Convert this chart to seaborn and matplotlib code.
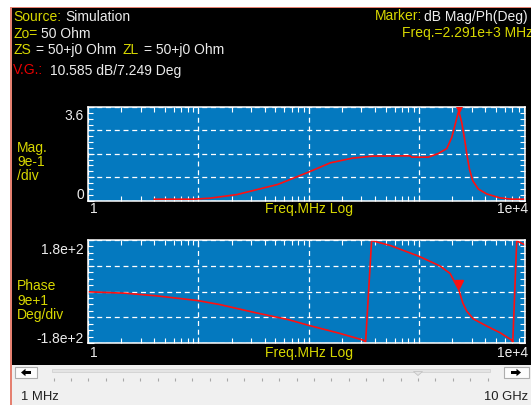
import matplotlib
matplotlib.use("Agg")
import numpy as np
import matplotlib.pyplot as plt
import seaborn as sns
from matplotlib.patches import Rectangle, Polygon
from matplotlib.ticker import LogLocator, MultipleLocator, NullFormatter
from matplotlib.transforms import offset_copy

# voltage gain magnitude (linear) vs frequency in MHz
mag_freq = [3.97, 8.97, 12.8, 22.5, 52.6, 99.4, 157, 249, 381, 828, 859, 1217,
            1500, 1787, 1983, 2291, 2443, 2618, 2713, 2866, 3073, 3456, 4121,
            5432, 7000, 9140]
mag_vals = [0.05, 0.05, 0.09, 0.23, 0.62, 1.09, 1.45, 1.63, 1.71, 1.72, 1.67, 1.67,
            1.81, 2.00, 2.43, 3.45, 3.00, 2.24, 1.79, 1.21, 0.76, 0.44, 0.25,
            0.10, 0.05, 0.05]

# phase in degrees (wrapped to +-180)
ph_freq = [1, 2.18, 4.12, 7.78, 9.97, 15.8, 32, 65, 99.4, 190, 313, 328, 372,
           547, 1000, 1554, 1914, 2291, 2495, 2712, 3114, 4121, 5432, 6934,
           7080, 7690, 9140]
ph_vals = [-1, -6, -15, -27, -32, -46, -73, -98, -118, -146, -170, -178, 178,
           161, 123, 89, 63, 7.2, -40, -69, -96, -121, -144, -170,
           -178, 177, 163]

marker_freq = 2291
marker_db = 10.585
marker_deg = 7.249
x_min, x_max = 1, 9140

BLUE = "#0479bf"
RED = "#ff1010"
YEL = "#d8d800"
WHT = "#ececec"
W, H = 531, 406

sns.set_style("ticks")
plt.rcParams["font.family"] = ["Liberation Sans", "DejaVu Sans"]
FS = 10

fig = plt.figure(figsize=(W / 100, H / 100), dpi=100, facecolor="white")

# background / window chrome, drawn in pixel coordinates
bg = fig.add_axes([0, 0, 1, 1])
bg.set_zorder(-1)
bg.set_xlim(0, W)
bg.set_ylim(H, 0)
bg.axis("off")
bg.add_patch(Rectangle((10, 7.5), W - 10, H, color="#e58070", lw=0))
bg.add_patch(Rectangle((11.5, 9), W, 357, color="black", lw=0))
bg.add_patch(Rectangle((11.5, 366), W, 41, color="#f0f0f0", lw=0))

# scrollbar
bg.add_patch(Rectangle((15, 368), 22, 11, facecolor="#fcfcfc", edgecolor="#adadad", lw=0.8))
bg.add_patch(Rectangle((503.5, 368), 25, 11, facecolor="#fcfcfc", edgecolor="#adadad", lw=0.8))
bg.add_patch(Polygon([(21, 373.5), (25.5, 369.8), (25.5, 377.2)], color="black", lw=0))
bg.add_patch(Rectangle((25, 372.4), 6, 2.3, color="black", lw=0))
bg.add_patch(Polygon([(521, 373.5), (516.5, 369.8), (516.5, 377.2)], color="black", lw=0))
bg.add_patch(Rectangle((511, 372.4), 6, 2.3, color="black", lw=0))
bg.add_patch(Rectangle((52, 369.5), 438, 3.5, facecolor="#e4e4e4", edgecolor="#d2d2d2", lw=0.6))
bg.add_patch(Polygon([(413.5, 372.5), (422.5, 372.5), (418, 376.5)],
                     facecolor="#e4e4e4", edgecolor="#c4c4c4", lw=0.6))
bg.vlines(np.linspace(53.5, 487.5, 26), 378.5, 381.5, color="#a8a8a8", lw=0.8)
bg.text(21, 400, "1 MHz", color="#202020", fontsize=9.4)
bg.text(528, 400, "10 GHz", color="#202020", fontsize=9.4, ha="right")

# header text
def seg(x, y, s, c):
    bg.text(x, y, s, color=c, fontsize=FS, va="baseline")

seg(13, 21, "Source:", YEL)
seg(65.5, 21, "Simulation", WHT)
seg(13, 37.5, "Zo=", YEL)
seg(41, 37.5, "50 Ohm", WHT)
seg(13, 54, "ZS", YEL)
seg(35.5, 54, "= 50+j0 Ohm", WHT)
seg(122.7, 54, "ZL", YEL)
seg(144.3, 54, "= 50+j0 Ohm", WHT)
seg(13, 74.5, "V.G.:", "#e80000")
seg(49.5, 74.5, "10.585 dB/7.249 Deg", WHT)
seg(375, 20.5, "Marker:", YEL)
seg(424, 20.5, "dB Mag/Ph(Deg)", WHT)
seg(402, 37, "Freq.=2.291e+3 MHz", YEL)

# axis annotations
for yb, s in [(152.5, "Mag."), (166.5, "9e-1"), (180.5, "/div"),
              (290.5, "Phase"), (305, "9e+1"), (319, "Deg/div")]:
    seg(17, yb, s, YEL)
for yb, s in [(120, "3.6"), (199.3, "0"), (254, "1.8e+2"), (343.3, "-1.8e+2")]:
    bg.text(84, yb, s, color=WHT, fontsize=FS, ha="right", va="baseline")
for yb in [213, 357.5]:
    bg.text(90, yb, "1", color=WHT, fontsize=FS, va="baseline")
    bg.text(309, yb, "Freq.MHz Log", color=YEL, fontsize=FS, ha="center", va="baseline")
    bg.text(528, yb, "1e+4", color=WHT, fontsize=FS, ha="right", va="baseline")


def style_axes(ax, ylo, yhi, major, minor):
    ax.set_facecolor(BLUE)
    ax.set_xscale("log")
    ax.set_xlim(x_min, x_max)
    ax.set_ylim(ylo, yhi)
    for s in ax.spines.values():
        s.set_color("white")
        s.set_linewidth(1.1)
    ax.xaxis.set_major_locator(LogLocator(base=10, numticks=10))
    ax.xaxis.set_minor_locator(LogLocator(base=10, subs=np.arange(2, 10), numticks=20))
    ax.xaxis.set_minor_formatter(NullFormatter())
    ax.yaxis.set_major_locator(MultipleLocator(major))
    ax.yaxis.set_minor_locator(MultipleLocator(minor))
    ax.tick_params(which="both", direction="in", top=True, right=True,
                   color="white", width=0.8, labelbottom=False, labelleft=False)
    ax.tick_params(which="major", length=4)
    ax.tick_params(which="minor", length=3.5)
    ax.grid(which="major", color="white", linestyle=(0, (4, 3)), linewidth=0.9)
    ax.set_xlabel("")
    ax.set_ylabel("")


ax_mag = fig.add_axes([88 / W, 1 - 201.5 / H, 437 / W, 93.5 / H])
ax_ph = fig.add_axes([88 / W, 1 - 344 / H, 437 / W, 103 / H])

sns.lineplot(x=mag_freq, y=mag_vals, ax=ax_mag, color=RED, linewidth=1.2,
             estimator=None, sort=False)
sns.lineplot(x=ph_freq, y=ph_vals, ax=ax_ph, color=RED, linewidth=1.2,
             estimator=None, sort=False)
style_axes(ax_mag, 0, 3.6, 0.9, 0.225)
style_axes(ax_ph, -180, 180, 90, 22.5)

# marker triangles sit just above the traced point
mag_lin = 10 ** (marker_db / 20)
for ax, yv in [(ax_mag, mag_lin), (ax_ph, marker_deg)]:
    tr = offset_copy(ax.transData, fig=fig, y=5, units="dots")
    ax.plot([marker_freq], [yv], marker="v", ms=6.3, color=RED, lw=0,
            transform=tr, zorder=5)

fig.savefig("out.png", dpi=100, facecolor="white")
